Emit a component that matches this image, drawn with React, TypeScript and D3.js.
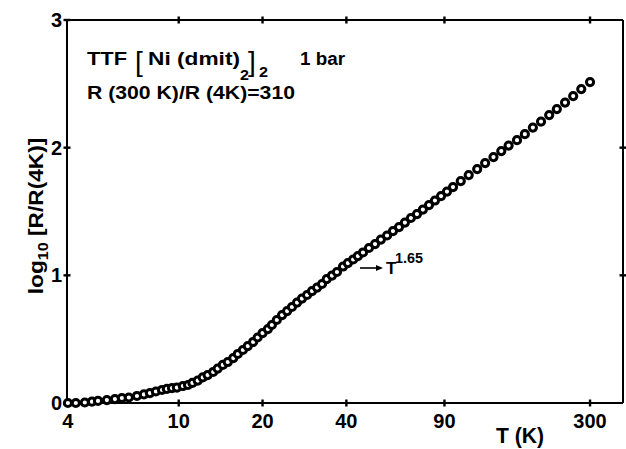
import React from "react";
import * as d3 from "d3";

const temperatures = [
  4.0, 4.27, 4.6, 4.88, 5.13, 5.52, 5.9, 6.25, 6.62, 7.08, 7.5, 7.88, 8.28, 8.71, 9.07, 9.46, 9.85,
  10.35, 10.8, 11.2, 11.7, 12.2, 12.7, 13.3, 13.8, 14.4, 15.0, 15.7, 16.3, 17.0, 17.7, 18.5, 19.2,
  20.0, 20.9, 21.6, 22.5, 23.5, 24.5, 25.5, 26.6, 27.7, 28.9, 30.1, 31.4, 32.7, 34.0, 35.5, 37.0,
  38.9, 40.5, 42.3, 44.0, 45.9, 48.2, 50.7, 53.2, 56.0, 58.8, 61.8, 64.9, 68.2, 71.7, 75.3, 79.2,
  83.2, 87.5, 91.9, 96.6, 103, 110, 118, 126, 135, 144, 153, 164, 175, 187, 200, 214, 228, 244,
  261, 279, 300,
];
const logR = [
  0.0, 0.0, 0.004, 0.01, 0.016, 0.023, 0.031, 0.039, 0.043, 0.055, 0.067, 0.078, 0.09, 0.102, 0.11,
  0.117, 0.121, 0.133, 0.141, 0.157, 0.176, 0.2, 0.219, 0.243, 0.27, 0.298, 0.321, 0.352, 0.384,
  0.415, 0.446, 0.478, 0.513, 0.548, 0.579, 0.611, 0.65, 0.689, 0.72, 0.752, 0.787, 0.818, 0.846,
  0.877, 0.904, 0.932, 0.971, 0.998, 1.026, 1.069, 1.096, 1.124, 1.151, 1.179, 1.214, 1.245, 1.28,
  1.312, 1.347, 1.378, 1.413, 1.449, 1.48, 1.515, 1.55, 1.586, 1.621, 1.656, 1.691, 1.738, 1.785,
  1.832, 1.879, 1.926, 1.973, 2.016, 2.059, 2.106, 2.157, 2.204, 2.255, 2.302, 2.353, 2.404, 2.459,
  2.514,
];
const xTicks = [4, 10, 20, 40, 90, 300];
const xTopTicks = [10, 20, 40, 90, 300];
const yTicks = [0, 1, 2, 3];
const yRightTicks = [1, 2];

const W = 626;
const H = 449;
const FONT = "'Liberation Sans', Arial, sans-serif";

export default function App() {
  const x = d3.scaleLog().domain([3.97, 394]).range([67, 623]);
  const y = d3.scaleLinear().domain([0, 3]).range([403, 20]);
  const [x0, x1] = x.range();
  const [y0, y1] = y.range();
  const pts = temperatures.map((t, i) => [x(t), y(logR[i])]);

  return (
    <svg
      width={W}
      height={H}
      style={{ position: "absolute", left: 0, top: 0, background: "#fff" }}
      fontFamily={FONT}
      fontWeight="bold"
    >
      <rect x={0} y={0} width={W} height={H} fill="#fff" />
      {/* frame */}
      <g stroke="#000" strokeWidth={2} fill="none">
        <line x1={x0} x2={x0} y1={y1} y2={y0} />
        <line x1={x0} x2={x1} y1={y0} y2={y0} />
        <line x1={x0} x2={x1} y1={y1} y2={y1} />
        <line x1={x1} x2={x1} y1={y1} y2={y0} />
      </g>
      {/* ticks */}
      <g stroke="#000" strokeWidth={2.4}>
        {xTicks.map((t) => (
          <line key={"b" + t} x1={x(t)} x2={x(t)} y1={y0 - 3.5} y2={y0 + 3.5} />
        ))}
        {xTopTicks.map((t) => (
          <line key={"t" + t} x1={x(t)} x2={x(t)} y1={y1 - 3.5} y2={y1 + 3.5} />
        ))}
        {yTicks.map((v) => (
          <line key={"l" + v} x1={x0 - 3.5} x2={x0 + 3.5} y1={y(v)} y2={y(v)} />
        ))}
        {yRightTicks.map((v) => (
          <line key={"r" + v} x1={x1 - 3.5} x2={x1 + 3.5} y1={y(v)} y2={y(v)} />
        ))}
      </g>
      {/* tick labels */}
      <g fontSize={20} fill="#000">
        {xTicks.map((t) => (
          <text key={"bl" + t} x={x(t)} y={y0 + 25} textAnchor="middle">
            {t}
          </text>
        ))}
        {yTicks.map((v) => (
          <text key={"ll" + v} x={x0 - 5} y={y(v) + 7} textAnchor="end">
            {v}
          </text>
        ))}
      </g>
      {/* axis titles */}
      <text x={520} y={443} fontSize={22} textAnchor="middle" fill="#000" textLength={48} lengthAdjust="spacingAndGlyphs">
        T (K)
      </text>
      <text
        transform="translate(43,216) rotate(-90) scale(1.08,1)"
        fontSize={21}
        textAnchor="middle"
        fill="#000"
      >
        log
        <tspan fontSize={15} dy={5}>10</tspan>
        <tspan dy={-5}> [R/R(4K)]</tspan>
      </text>
      {/* data points */}
      <g fill="#fff" stroke="#000" strokeWidth={3}>
        {pts.map(([px, py], i) => (
          <circle key={i} cx={px} cy={py} r={3.6} />
        ))}
      </g>
      {/* annotations */}
      <g fill="#000">
        <text x={87} y={65} fontSize={18} textLength={40} lengthAdjust="spacingAndGlyphs">TTF</text>
        <text x={135} y={71} fontSize={28} fontWeight="normal">[</text>
        <text x={148} y={65} fontSize={18} textLength={92} lengthAdjust="spacingAndGlyphs">Ni (dmit)</text>
        <text x={240} y={80} fontSize={15} textLength={9} lengthAdjust="spacingAndGlyphs">2</text>
        <text x={248} y={71} fontSize={28} fontWeight="normal">]</text>
        <text x={259} y={77} fontSize={15} textLength={9} lengthAdjust="spacingAndGlyphs">2</text>
        <text x={300} y={65} fontSize={18} textLength={45} lengthAdjust="spacingAndGlyphs">1 bar</text>
        <text x={87} y={99} fontSize={18} textLength={208} lengthAdjust="spacingAndGlyphs">R (300 K)/R (4K)=310</text>
        <text x={386} y={274} fontSize={17}>T</text>
        <text x={395} y={263} fontSize={15} textLength={28} lengthAdjust="spacingAndGlyphs">1.65</text>
      </g>
      <g stroke="#000" strokeWidth={1.6} fill="#000">
        <line x1={360} x2={378} y1={268} y2={268} />
        <path d="M383,268 L376,265 L376,271 Z" stroke="none" />
      </g>
    </svg>
  );
}
